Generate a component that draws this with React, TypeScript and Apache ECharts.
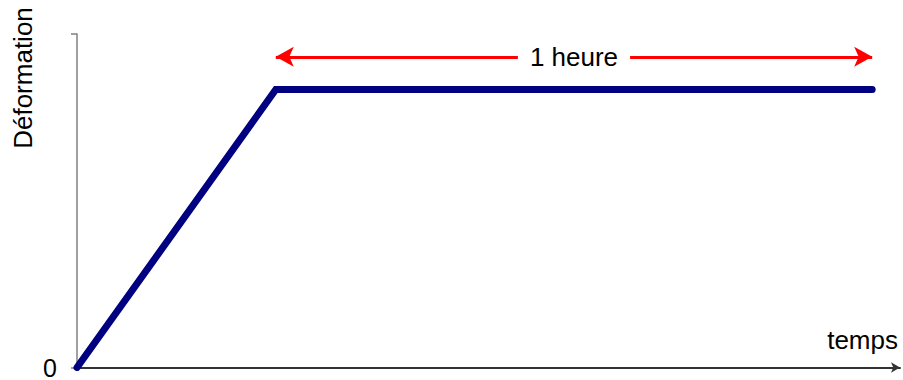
import React, { useEffect, useRef } from "react";
import * as echarts from "echarts";

// Data
const curveX = [0, 1, 4];
const curveY = [0, 1, 1];
const spanStart = 1;
const spanEnd = 4;
const spanLevel = 1.118;
const spanLabel = "1 heure";
const xName = "temps";
const yName = "Déformation";
const yTickLabels = ["0"];

const FONT = "'Liberation Sans', Arial, sans-serif";

export default function App() {
  const ref = useRef<HTMLDivElement>(null);
  useEffect(() => {
    if (!ref.current) return;
    const chart = echarts.init(ref.current, null, { renderer: "svg" });
    const data = curveX.map((x, i) => [x, curveY[i]]);
    chart.setOption({
      animation: false,
      backgroundColor: "#ffffff",
      grid: { left: 77, right: 3, top: 34, bottom: 10, containLabel: false },
      xAxis: {
        type: "value",
        min: 0,
        max: 4.14,
        axisLine: {
          show: true,
          lineStyle: { color: "#333333", width: 2 },
          symbol: ["none", "arrow"],
          symbolSize: [8, 9],
        },
        axisTick: { show: false },
        axisLabel: { show: false },
        splitLine: { show: false },
      },
      yAxis: {
        type: "value",
        min: 0,
        max: 1.2,
        interval: 1.2,
        axisLine: { show: true, lineStyle: { color: "#808080", width: 1.5 } },
        axisTick: { show: true, length: 6, lineStyle: { color: "#808080", width: 1.5 } },
        axisLabel: {
          margin: 20,
          fontSize: 25,
          lineHeight: 18,
          verticalAlign: "middle",
          fontFamily: FONT,
          color: "#000000",
          formatter: (v: number) => (v === 0 ? yTickLabels[0] : ""),
        },
        splitLine: { show: false },
      },
      graphic: [
        {
          type: "text",
          x: 23,
          y: 78,
          rotation: Math.PI / 2,
          style: {
            text: yName,
            fontSize: 26,
            fontFamily: FONT,
            fill: "#000000",
            align: "center",
            verticalAlign: "middle",
          },
        },
        {
          type: "text",
          x: 898,
          y: 340,
          style: {
            text: xName,
            fontSize: 26,
            fontFamily: FONT,
            fill: "#000000",
            align: "right",
            verticalAlign: "middle",
          },
        },
      ],
      series: [
        {
          type: "line",
          data,
          symbol: "none",
          lineStyle: { color: "#000080", width: 7, cap: "round", join: "miter" },
          z: 3,
          markLine: {
            silent: true,
            symbol: ["arrow", "arrow"],
            symbolSize: [15, 18],
            lineStyle: { color: "#ff0000", width: 3, type: "solid" },
            label: {
              show: true,
              position: "middle",
              formatter: spanLabel,
              fontSize: 26,
              lineHeight: 28,
              fontFamily: FONT,
              color: "#000000",
              backgroundColor: "#ffffff",
              padding: [0, 12, 0, 12],
              verticalAlign: "middle",
              distance: 0,
            },
            data: [
              [
                { coord: [spanStart, spanLevel] },
                { coord: [spanEnd, spanLevel] },
              ],
            ],
          },
        },
      ],
    });
    return () => chart.dispose();
  }, []);
  return (
    <div
      ref={ref}
      style={{ position: "fixed", left: 0, top: 0, width: 903, height: 380 }}
    />
  );
}
